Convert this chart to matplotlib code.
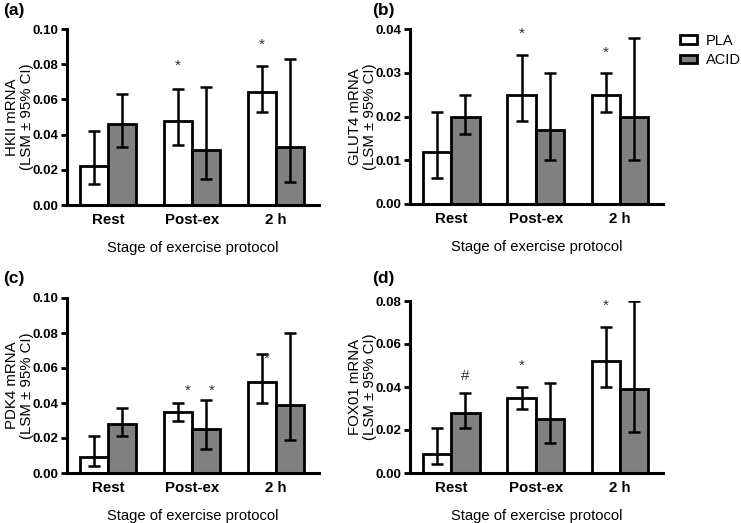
import matplotlib.pyplot as plt
import numpy as np
from matplotlib.patches import Patch
from matplotlib.transforms import ScaledTranslation

stages = ['Rest', 'Post-ex', '2 h']
groups = ['PLA', 'ACID']

# (a) HKII
hk_pla = [0.022, 0.048, 0.064]
hk_pla_lo = [0.012, 0.034, 0.053]
hk_pla_hi = [0.042, 0.066, 0.079]
hk_acid = [0.046, 0.031, 0.033]
hk_acid_lo = [0.033, 0.015, 0.013]
hk_acid_hi = [0.063, 0.067, 0.083]

# (b) GLUT4
gl_pla = [0.012, 0.025, 0.025]
gl_pla_lo = [0.006, 0.019, 0.021]
gl_pla_hi = [0.021, 0.034, 0.030]
gl_acid = [0.020, 0.017, 0.020]
gl_acid_lo = [0.016, 0.010, 0.010]
gl_acid_hi = [0.025, 0.030, 0.038]

# (c) PDK4
pd_pla = [0.009, 0.035, 0.052]
pd_pla_lo = [0.004, 0.030, 0.040]
pd_pla_hi = [0.021, 0.040, 0.068]
pd_acid = [0.028, 0.025, 0.039]
pd_acid_lo = [0.021, 0.014, 0.019]
pd_acid_hi = [0.037, 0.042, 0.080]

# (d) FOX01
fx_pla = [0.009, 0.035, 0.052]
fx_pla_lo = [0.004, 0.030, 0.040]
fx_pla_hi = [0.021, 0.040, 0.068]
fx_acid = [0.028, 0.025, 0.039]
fx_acid_lo = [0.021, 0.014, 0.019]
fx_acid_hi = [0.037, 0.042, 0.080]

# significance marks: (stage index, group index, y, symbol, nudge)
hk_marks = [(1, 0, 0.079, '*', 0.0), (2, 0, 0.091, '*', 0.0)]
gl_marks = [(1, 0, 0.0388, '*', 0.0), (2, 0, 0.0346, '*', 0.0)]
pd_marks = [(1, 0, 0.047, '*', 0.12), (1, 1, 0.047, '*', 0.06), (2, 0, 0.065, '*', 0.06)]
fx_marks = [(0, 1, 0.045, '#', 0.0), (1, 0, 0.050, '*', 0.0), (2, 0, 0.078, '*', 0.0)]

panels = [
    ('(a)', 'HKII mRNA', 0.10, hk_pla, hk_pla_lo, hk_pla_hi, hk_acid, hk_acid_lo, hk_acid_hi, hk_marks),
    ('(b)', 'GLUT4 mRNA', 0.04, gl_pla, gl_pla_lo, gl_pla_hi, gl_acid, gl_acid_lo, gl_acid_hi, gl_marks),
    ('(c)', 'PDK4 mRNA', 0.10, pd_pla, pd_pla_lo, pd_pla_hi, pd_acid, pd_acid_lo, pd_acid_hi, pd_marks),
    ('(d)', 'FOX01 mRNA', 0.08, fx_pla, fx_pla_lo, fx_pla_hi, fx_acid, fx_acid_lo, fx_acid_hi, fx_marks),
]

W, H = 741, 523
plt.rcParams['font.family'] = ['Liberation Sans', 'DejaVu Sans']
fig = plt.figure(figsize=(W / 100, H / 100), dpi=100)

# axes boxes in pixels: left, right, top, bottom
boxes = [(67, 319, 29, 205), (410, 663, 29, 204), (67, 319, 298, 473), (410, 663, 301, 473)]
label_pos = [(3, 11), (372, 11), (3, 279), (372, 279)]

width = 0.335
fills = ['white', '#808080']
label_shift = [15, 11, 5]

for (lab, ylab, ymax, p, plo, phi, a, alo, ahi, marks), box, lp in zip(panels, boxes, label_pos):
    l, r, t, b = box
    ax = fig.add_axes([l / W, 1 - b / H, (r - l) / W, (b - t) / H])
    x = np.arange(len(stages))
    vals = [p, a]
    lows = [plo, alo]
    highs = [phi, ahi]
    for g in range(2):
        xs = x + (g - 0.5) * width
        v = np.array(vals[g])
        err = [v - np.array(lows[g]), np.array(highs[g]) - v]
        ax.bar(xs, v, width, color=fills[g], edgecolor='black', linewidth=2, zorder=2)
        ax.errorbar(xs, v, yerr=err, fmt='none', ecolor='black', elinewidth=1.8,
                    capsize=4, capthick=1.8, zorder=3)
    for si, gi, yy, sym, dx in marks:
        ax.text(si + (gi - 0.5) * width + dx, yy, sym, ha='center', va='center',
                fontsize=11, color='#333333', zorder=4)
    ax.set_xlim(-0.49, 2.51)
    ax.set_ylim(0, ymax)
    ax.set_yticks(np.linspace(0, ymax, 5 if ymax != 0.10 else 6))
    ax.yaxis.set_major_formatter(plt.FormatStrFormatter('%.2f'))
    ax.set_xticks(x)
    ax.set_xticklabels(stages)
    for tl, dx in zip(ax.get_xticklabels(), label_shift):
        tl.set_transform(tl.get_transform() + ScaledTranslation(dx / 100, 0, fig.dpi_scale_trans))
    ax.tick_params(axis='x', length=0, pad=6, labelsize=10.8)
    ax.tick_params(axis='y', length=4, width=2, labelsize=9.5, pad=2)
    for tl in ax.get_xticklabels() + ax.get_yticklabels():
        tl.set_fontweight('bold')
    for s in ['top', 'right']:
        ax.spines[s].set_visible(False)
    for s in ['left', 'bottom']:
        ax.spines[s].set_linewidth(2.2)
    ax.set_xlabel('Stage of exercise protocol', fontsize=10.6, labelpad=10)
    ax.set_ylabel(ylab + '\n(LSM \u00b1 95% CI)', fontsize=10.8, linespacing=1.05)
    ax.yaxis.set_label_coords(-33 / (r - l), 0.5)
    fig.text(lp[0] / W, 1 - lp[1] / H, lab, fontsize=12.5, fontweight='bold', va='center', ha='left')

handles = [Patch(facecolor=f, edgecolor='black', linewidth=2) for f in fills]
fig.legend(handles, groups, loc='upper left', bbox_to_anchor=(680 / W, 1 - 34 / H),
           frameon=False, fontsize=10.5, handlelength=1.15, handleheight=0.55,
           handletextpad=0.6, labelspacing=0.35, borderpad=0, borderaxespad=0)

fig.savefig('out.png', dpi=100)
